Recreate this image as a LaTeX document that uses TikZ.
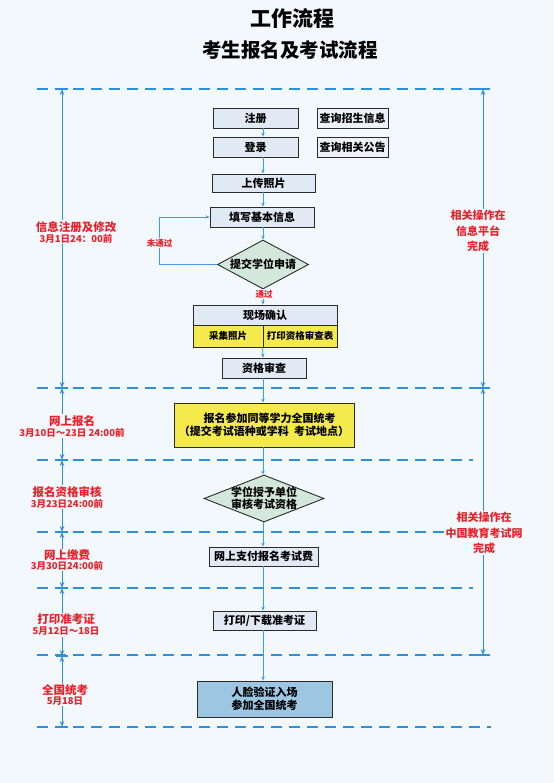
\documentclass[tikz,border=0pt]{standalone}
\usepackage{fontspec}
\setmainfont{Noto Sans CJK SC}
\usetikzlibrary{arrows.meta,shapes.geometric}
\definecolor{bg}{HTML}{F3F8FC}
\definecolor{dashblue}{HTML}{2F8FD9}
\definecolor{flowblue}{HTML}{3D9EE6}
\definecolor{redc}{HTML}{E8212B}
\definecolor{boxline}{HTML}{2B2B2B}
\definecolor{lightbox}{HTML}{E1E9F4}
\definecolor{qfill}{HTML}{EEF1F5}
\definecolor{yell}{HTML}{F4EA4C}
\definecolor{diafill}{HTML}{D3E7DA}
\definecolor{rlfill}{HTML}{9DC6E3}
\begin{document}
\begin{tikzpicture}[x=1pt,y=-1pt,font=\bfseries,
  box/.style={draw=boxline, line width=0.9pt, fill=lightbox, minimum height=20pt, inner sep=0pt, font=\fontsize{11}{13}\selectfont\bfseries, align=center},
  qbox/.style={box, fill=qfill},
  ybox/.style={box, fill=yell},
  dia/.style={diamond, draw=boxline, line width=0.9pt, fill=diafill, inner sep=0pt},
  diatext/.style={font=\fontsize{11}{12}\selectfont\bfseries, align=center, inner sep=0pt},
  flow/.style={draw=flowblue, line width=0.8pt, -{Stealth[length=4pt,width=3.5pt]}},
  dim/.style={draw=dashblue, line width=1pt, {Stealth[length=6pt,width=4.5pt]}-{Stealth[length=6pt,width=4.5pt]}},
  tick/.style={draw=dashblue, line width=1.2pt},
  sep/.style={draw=dashblue, line width=1.6pt, dash pattern=on 11pt off 7pt},
  redlab/.style={text=redc, fill=bg, inner sep=1pt, align=center},
  bigred/.style={redlab, font=\fontsize{11}{14}\selectfont\bfseries},
  smallred/.style={redlab, font=\fontsize{8.5}{10}\selectfont\bfseries},
]
\fill[bg] (0,0) rectangle (554,783);
\useasboundingbox (0,0) rectangle (554,783);

% titles
\node[font=\fontsize{21}{24}\selectfont\bfseries] (t1) at (292,18) {工作流程};
\node[font=\fontsize{19.5}{22}\selectfont\bfseries] (t2) at (290,50) {考生报名及考试流程};

% separators
\foreach \yy/\xe in {89/490,388/490,460/473,532/473,588/473,655/490,727/491}
  \draw[sep] (37,\yy) -- (\xe,\yy);

% coordinates for dimension arrows
\coordinate (L1) at (62,89);
\coordinate (L2) at (62,388);
\coordinate (L3) at (62,460);
\coordinate (L4) at (62,532);
\coordinate (L5) at (62,588);
\coordinate (L6) at (62,656);
\coordinate (L7) at (62,727);
\coordinate (R1) at (483,89);
\coordinate (R2) at (483,388);
\coordinate (R3) at (483,655);

\draw[dim] (L1) -- (L2);
\draw[dim] (L2) -- (L3);
\draw[dim] (L3) -- (L4);
\draw[dim] (L4) -- (L5);
\draw[dim] (L5) -- (L6);
\draw[dim] (L6) -- (L7);
\draw[dim] (R1) -- (R2);
\draw[dim] (R2) -- (R3);
\foreach \c in {L1,L2,L3,L4,L5,L6,L7,R1,R2,R3}
  \draw[tick] ([xshift=-6pt]\c) -- ([xshift=6pt]\c);

% left labels
\node[redlab] (lab1) at (76,232) {{\fontsize{11.5}{14}\selectfont 信息注册及修改}\\[-1pt]{\fontsize{9.5}{11}\selectfont 3月1日24：00前}};
\node[redlab] (lab2) at (72,426) {{\fontsize{11.5}{14}\selectfont 网上报名}\\[-1pt]{\fontsize{9.5}{11}\selectfont 3月10日～23日 24:00前}};
\node[redlab] (lab3) at (67,497) {{\fontsize{11.5}{14}\selectfont 报名资格审核}\\[-1pt]{\fontsize{9.5}{11}\selectfont 3月23日24:00前}};
\node[redlab] (lab4) at (67,560) {{\fontsize{11.5}{14}\selectfont 网上缴费}\\[-2pt]{\fontsize{9.5}{11}\selectfont 3月30日24:00前}};
\node[redlab] (lab5) at (66,625) {{\fontsize{11.5}{14}\selectfont 打印准考证}\\[-1pt]{\fontsize{9.5}{11}\selectfont 5月12日～18日}};
\node[redlab] (lab6) at (65,695) {{\fontsize{11.5}{14}\selectfont 全国统考}\\[-2pt]{\fontsize{9.5}{11}\selectfont 5月18日}};

% right labels
\node[bigred, font=\fontsize{11}{15.5}\selectfont\bfseries] (rlab1) at (478,231) {相关操作在\\信息平台\\完成};
\node[bigred, font=\fontsize{11}{15.5}\selectfont\bfseries] (rlab2) at (484,533) {相关操作在\\中国教育考试网\\完成};

% flow nodes
\coordinate (ax) at (263,0);
\coordinate (lp) at (159,0);
\node[box, minimum width=85pt] (zc) at (255.5,118) {注册};
\node[qbox, minimum width=71pt] (cx1) at (352.5,118) {查询招生信息};
\node[box, minimum width=85pt] (dl) at (255.5,147) {登录};
\node[qbox, minimum width=71pt] (cx2) at (352.5,147) {查询相关公告};
\node[box, minimum width=103pt, minimum height=18pt] (sc) at (263.5,183) {上传照片};
\node[box, minimum width=104pt] (tx) at (262,217) {填写基本信息};
\node[dia, minimum width=91pt, minimum height=49pt] (d1) at (263,264.5) {};
\node[diatext] (d1t) at (d1.center) {提交学位申请};
\node[box, minimum width=144pt] (xc) at (265,315) {现场确认};
\node[ybox, minimum width=70pt, minimum height=22pt, font=\fontsize{9.5}{11}\selectfont\bfseries] (cj) at (228,336) {采集照片};
\node[ybox, minimum width=74pt, minimum height=22pt, font=\fontsize{9.5}{11}\selectfont\bfseries] (dy) at (300,336) {打印资格审查表};
\node[box, minimum width=84pt] (zs) at (264,368) {资格审查};
\node[ybox, minimum width=180pt, minimum height=44pt, font=\fontsize{11}{13.5}\selectfont\bfseries] (bm) at (264,425) {\quad 报名参加同等学力全国统考\\（提交考试语种或学科\ \ 考试地点）};
\node[dia, minimum width=120pt, minimum height=47pt] (d2) at (264,498.5) {};
\node[diatext] (d2t) at (d2.center) {学位授予单位\\审核考试资格};
\node[box, minimum width=109pt, minimum height=19pt] (zf) at (263.5,556.5) {网上支付报名考试费};
\node[box, minimum width=103pt, minimum height=19pt] (dy2) at (264.5,620.5) {打印/下载准考证};
\node[box, fill=rlfill, minimum width=135pt, minimum height=36pt, font=\fontsize{11}{13}\selectfont\bfseries] (rl) at (264.5,699) {人脸验证入场\\参加全国统考};

% flow arrows
\draw[flow] (zc.south -| ax) -- (dl.north -| ax);
\draw[flow] (dl.south -| ax) -- (sc.north -| ax);
\draw[flow] (sc.south -| ax) -- (tx.north -| ax);
\draw[flow] (tx.south -| ax) -- (d1.north);
\draw[flow] (d1.south) -- (xc.north -| ax);
\draw[flow] (dy.south west) -- (zs.north -| ax);
\draw[flow] (zs.south -| ax) -- (bm.north -| ax);
\draw[flow] (bm.south -| ax) -- (d2.north -| ax);
\draw[flow] (d2.south -| ax) -- (zf.north -| ax);
\draw[flow] (zf.south -| ax) -- (dy2.north -| ax);
\draw[flow] (dy2.south -| ax) -- (rl.north -| ax);
\draw[flow] (d1.west) -- (d1.west -| lp) -- (tx.west -| lp) -- (tx.west);

\node[smallred] (wtg) at (159.5,243) {未通过};
\node[smallred] (tg) at (264,294) {通过};
\end{tikzpicture}
\end{document}
